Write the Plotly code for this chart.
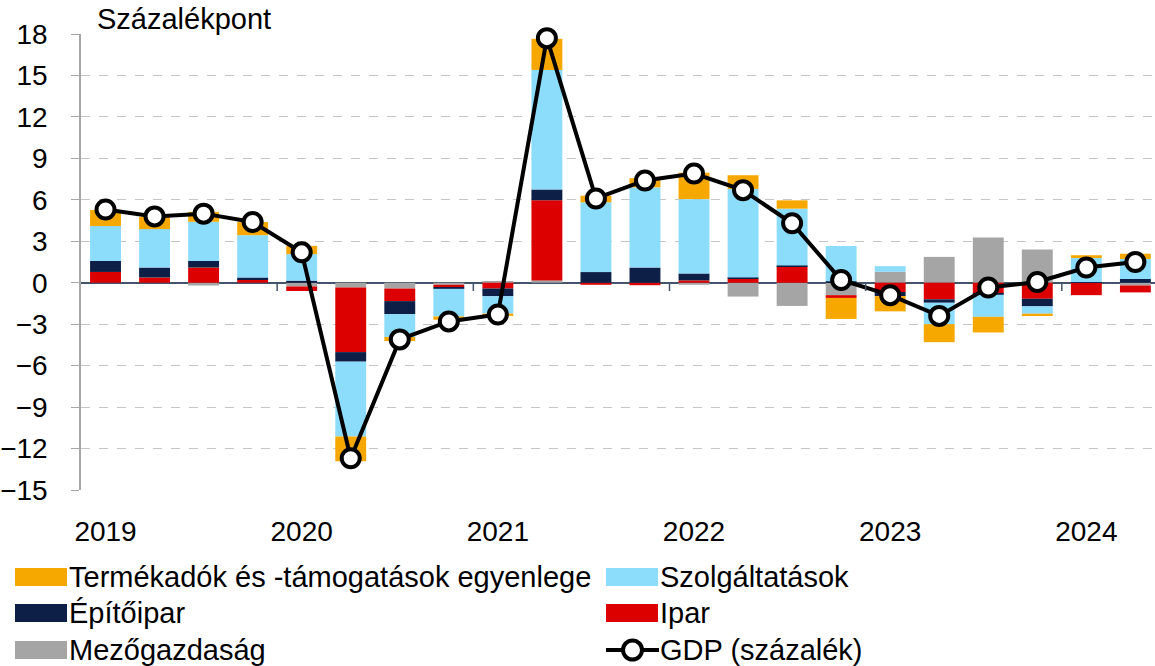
import plotly.graph_objects as go

quarters = [f"{y} Q{q}" for y in range(2019, 2025) for q in range(1, 5)][:22]
year_labels = ["2019", "2020", "2021", "2022", "2023", "2024"]

mezogazdasag = [0.0, 0.0, -0.2, 0.0, -0.27, -0.35, -0.42, -0.15, 0.1, 0.17, 0.0, 0.0,
                -0.15, -1.0, -1.68, -0.9, 0.79, 1.87, 3.28, 2.4, 0.0, -0.2]
ipar = [0.78, 0.38, 1.1, 0.25, -0.33, -4.67, -0.91, -0.17, -0.42, 5.8, -0.15, -0.18,
        0.17, 0.29, 1.15, -0.2, -0.67, -1.2, -0.77, -1.16, -0.9, -0.5]
epitoipar = [0.8, 0.72, 0.48, 0.13, 0.15, -0.69, -0.95, -0.12, -0.56, 0.78, 0.77, 1.1,
             0.5, 0.08, 0.1, 0.1, -0.3, -0.25, -0.1, -0.55, 0.05, 0.27]
szolgaltatasok = [2.52, 2.78, 2.83, 3.06, 1.92, -5.42, -1.65, -2.0, -1.25, 8.65, 5.05, 5.8,
                  5.38, 6.42, 4.11, 2.55, 0.41, -1.55, -1.6, -0.53, 1.74, 1.45]
termekadok = [1.16, 0.89, 0.72, 0.95, 0.6, -1.79, -0.29, -0.24, -0.17, 2.25, 0.48, 0.67,
              1.91, 0.99, 0.6, -1.52, -1.1, -1.3, -1.13, -0.17, 0.2, 0.38]
gdp = [5.3, 4.8, 5.0, 4.4, 2.2, -12.7, -4.1, -2.8, -2.3, 17.7, 6.1, 7.4,
       7.9, 6.7, 4.3, 0.2, -0.9, -2.4, -0.35, 0.05, 1.1, 1.5]

names = ["Mezőgazdaság", "Ipar", "Építőipar", "Szolgáltatások",
         "Termékadók és -támogatások egyenlege"]
colors = ["#A5A5A5", "#DC0000", "#0D1F47", "#8CDCFC", "#F7A800"]
series = [mezogazdasag, ipar, epitoipar, szolgaltatasok, termekadok]
gdp_name = "GDP (százalék)"

FONT = "Liberation Sans, Arial, sans-serif"
W, H = 1155, 666
ML, MR, MT, MB = 81, 0, 34, 176
PW, PH = W - ML - MR, H - MT - MB

def px(xp):
    return (xp - ML) / PW

def py(yp):
    return (H - MB - yp) / PH

x = list(range(len(quarters)))
fig = go.Figure()
for name, col, vals in zip(names, colors, series):
    fig.add_trace(go.Bar(x=x, y=vals, name=name, marker=dict(color=col, line=dict(width=0)),
                         showlegend=False))
fig.add_trace(go.Scatter(x=x, y=gdp, name=gdp_name, mode="lines+markers",
                         line=dict(color="black", width=4), cliponaxis=False,
                         marker=dict(size=18, color="white", line=dict(color="black", width=4)),
                         showlegend=False))

shapes = []
# year boundary ticks on the zero line
for k in range(1, len(year_labels)):
    b = 4 * k - 0.5
    shapes.append(dict(type="line", xref="x", yref="y", x0=b, x1=b, y0=0, y1=-0.6,
                       line=dict(color="#44546A", width=1.5)))

annotations = [dict(text="Százalékpont", xref="paper", yref="paper", x=px(95), y=py(19),
                    xanchor="left", yanchor="middle", showarrow=False,
                    font=dict(family=FONT, size=29, color="black"))]

legend_items = [
    (names[4], colors[4], 15, 577, "bar"),
    (names[3], colors[3], 606, 577, "bar"),
    (names[2], colors[2], 15, 613, "bar"),
    (names[1], colors[1], 606, 613, "bar"),
    (names[0], colors[0], 15, 650, "bar"),
    (gdp_name, "black", 606, 650, "line"),
]
for label, col, x0, yc, kind in legend_items:
    if kind == "bar":
        shapes.append(dict(type="rect", xref="paper", yref="paper", x0=px(x0), x1=px(x0 + 52),
                           y0=py(yc + 9), y1=py(yc - 9), fillcolor=col, line=dict(width=0)))
    else:
        shapes.append(dict(type="line", xref="paper", yref="paper", x0=px(x0), x1=px(x0 + 53),
                           y0=py(yc), y1=py(yc), line=dict(color="black", width=4)))
        shapes.append(dict(type="circle", xref="paper", yref="paper", x0=px(x0 + 17), x1=px(x0 + 36),
                           y0=py(yc + 9.5), y1=py(yc - 9.5), fillcolor="white",
                           line=dict(color="black", width=4)))
    annotations.append(dict(text=label, xref="paper", yref="paper", x=px(x0 + 52), y=py(yc),
                            xanchor="left", yanchor="middle", showarrow=False,
                            font=dict(family=FONT, size=29, color="black")))

fig.update_layout(
    width=W, height=H, margin=dict(l=ML, r=MR, t=MT, b=MB),
    paper_bgcolor="white", plot_bgcolor="white",
    barmode="relative", bargap=0.37,
    font=dict(family=FONT, size=28, color="black"),
    shapes=shapes, annotations=annotations,
    xaxis=dict(range=[-0.5, 21.4], tickmode="array",
               tickvals=[4 * i for i in range(len(year_labels))], ticktext=year_labels,
               showgrid=False, zeroline=False, showline=False, ticks="",
               ticklabelstandoff=22, tickfont=dict(family=FONT, size=28)),
    yaxis=dict(range=[-15, 18], dtick=3, tick0=0, showgrid=True, gridcolor="#C4C4C4",
               griddash="dash", gridwidth=1, zeroline=True, zerolinecolor="#44546A",
               zerolinewidth=1.5, showline=True, linecolor="#A6A6A6", linewidth=1.5,
               ticks="outside", ticklen=8, tickcolor="#A6A6A6", ticklabelstandoff=18,
               tickfont=dict(family=FONT, size=28)),
)

fig.write_html("out.html", config={"displayModeBar": False},
               post_script="document.body.style.margin='0';")
